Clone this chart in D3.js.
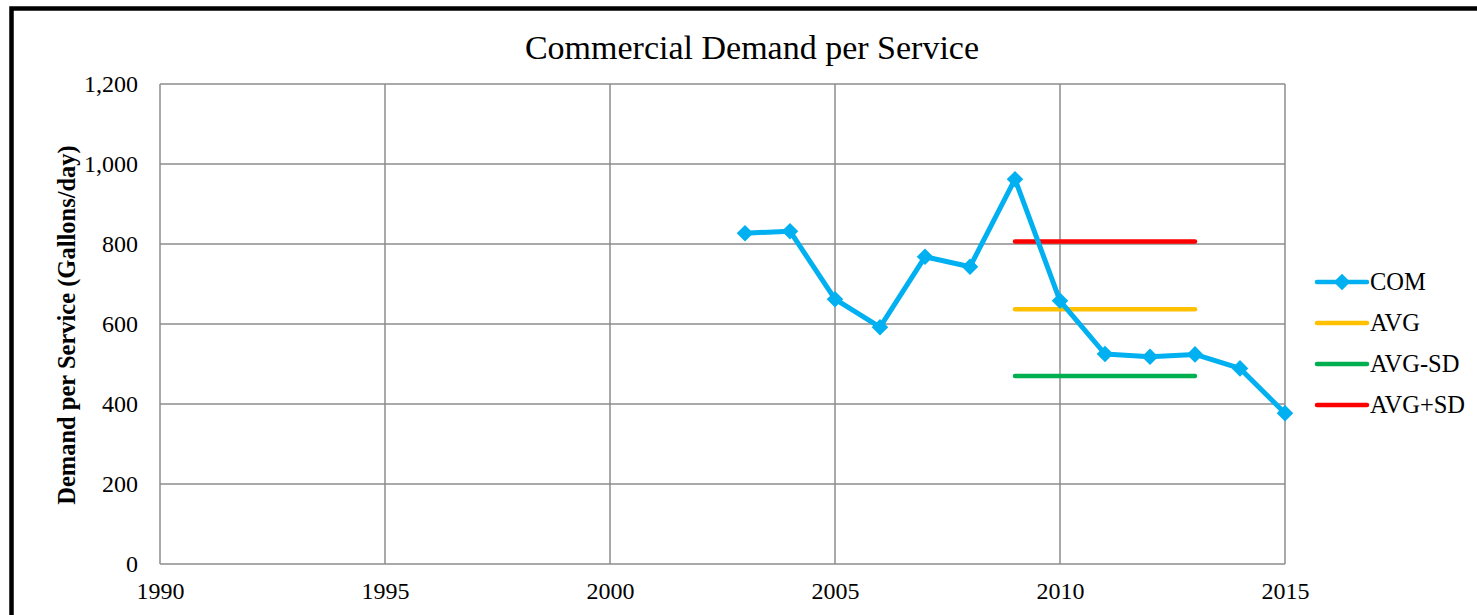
<!DOCTYPE html>
<html>
<head>
<meta charset="utf-8">
<script src="https://cdn.jsdelivr.net/npm/d3@7"></script>
<style>
  body { margin: 0; background: #fff; }
  text { font-family: "Liberation Serif", "Times New Roman", serif; }
</style>
</head>
<body>
<div id="plot"></div>
<script>
// data
var years = [2003, 2004, 2005, 2006, 2007, 2008, 2009, 2010, 2011, 2012, 2013, 2014, 2015];
var com = [827, 832, 662, 592, 768, 743, 962, 658, 525, 518, 524, 489, 377];
var statYears = [2009, 2013];
var avg = 637;
var avgMinusSd = 470;
var avgPlusSd = 806;
var xTicks = [1990, 1995, 2000, 2005, 2010, 2015];
var yTicks = [0, 200, 400, 600, 800, 1000, 1200];

var W = 1477, H = 615;
var margin = {top: 84, left: 160, right: 1477 - 1285, bottom: 615 - 564};
var width = W - margin.left - margin.right,
    height = H - margin.top - margin.bottom;

var svg = d3.select("div#plot").append("svg")
  .attr("width", W)
  .attr("height", H);

// outer frame (cut off on the right and bottom)
svg.append("rect")
  .attr("x", 11.5).attr("y", 8.5)
  .attr("width", 1600).attr("height", 800)
  .attr("fill", "none")
  .attr("stroke", "#000")
  .attr("stroke-width", 4.5);

svg.append("text")
  .attr("x", 752).attr("y", 59)
  .attr("text-anchor", "middle")
  .style("font-size", "34px")
  .text("Commercial Demand per Service");

var g = svg.append("g")
  .attr("transform", "translate(" + margin.left + "," + margin.top + ")");

var x = d3.scaleLinear().domain([1990, 2015]).range([0, width]);
var y = d3.scaleLinear().domain([0, 1200]).range([height, 0]);

// grid
g.selectAll(".hgrid").data(yTicks).enter().append("line")
  .attr("class", "hgrid")
  .attr("x1", 0).attr("x2", width)
  .attr("y1", function(d) { return y(d); })
  .attr("y2", function(d) { return y(d); })
  .attr("stroke", "#8c8c8c")
  .attr("stroke-width", 1.5);

g.selectAll(".vgrid").data(xTicks).enter().append("line")
  .attr("class", "vgrid")
  .attr("y1", 0).attr("y2", height)
  .attr("x1", function(d) { return x(d); })
  .attr("x2", function(d) { return x(d); })
  .attr("stroke", "#8c8c8c")
  .attr("stroke-width", 1.5);

// axes
var xAxis = d3.axisBottom(x).tickValues(xTicks).tickFormat(d3.format("d")).tickSize(0).tickPadding(18);
g.append("g")
  .attr("transform", "translate(0," + height + ")")
  .call(xAxis)
  .call(function(s) { s.select(".domain").remove(); })
  .selectAll("text")
    .style("font-size", "24px")
    .attr("fill", "#000")
    .style("font-family", "'Liberation Serif', serif");

var yAxis = d3.axisLeft(y).tickValues(yTicks).tickFormat(d3.format(",")).tickSize(0).tickPadding(22);
g.append("g")
  .call(yAxis)
  .call(function(s) { s.select(".domain").remove(); })
  .selectAll("text")
    .style("font-size", "24px")
    .attr("fill", "#000")
    .style("font-family", "'Liberation Serif', serif");

svg.append("text")
  .attr("transform", "translate(75,325) rotate(-90)")
  .attr("text-anchor", "middle")
  .style("font-size", "24.5px")
  .style("font-weight", "bold")
  .text("Demand per Service (Gallons/day)");

// stat lines
var stats = [
  {name: "AVG", value: avg, color: "#FFC000"},
  {name: "AVG-SD", value: avgMinusSd, color: "#00B050"},
  {name: "AVG+SD", value: avgPlusSd, color: "#FF0000"}
];

g.selectAll(".stat").data(stats).enter().append("line")
  .attr("class", "stat")
  .attr("x1", x(statYears[0])).attr("x2", x(statYears[1]))
  .attr("y1", function(d) { return y(d.value); })
  .attr("y2", function(d) { return y(d.value); })
  .attr("stroke", function(d) { return d.color; })
  .attr("stroke-width", 4.5)
  .attr("stroke-linecap", "round");

// COM line
var comData = years.map(function(yr, i) { return {year: yr, value: com[i]}; });
g.append("path")
  .datum(comData)
  .attr("fill", "none")
  .attr("stroke", "#00B0F0")
  .attr("stroke-width", 5)
  .attr("stroke-linejoin", "round")
  .attr("d", d3.line()
    .x(function(d) { return x(d.year); })
    .y(function(d) { return y(d.value); }));

var diamond = d3.symbol().type(d3.symbolDiamond2).size(175);
g.selectAll(".point").data(comData).enter().append("path")
  .attr("class", "point")
  .attr("d", diamond)
  .attr("transform", function(d) { return "translate(" + x(d.year) + "," + y(d.value) + ")"; })
  .attr("fill", "#00B0F0");

// legend: COM, AVG, AVG-SD, AVG+SD
var legend = [{name: "COM", color: "#00B0F0", marker: true}].concat(stats.map(function(s) {
  return {name: s.name, color: s.color, marker: false};
}));
var lg = svg.selectAll(".legend").data(legend).enter().append("g")
  .attr("class", "legend")
  .attr("transform", function(d, i) { return "translate(1317," + (282 + i * 41) + ")"; });

lg.append("line")
  .attr("x1", 0).attr("x2", 50)
  .attr("stroke", function(d) { return d.color; })
  .attr("stroke-width", 4.5)
  .attr("stroke-linecap", "round");

lg.filter(function(d) { return d.marker; }).append("path")
  .attr("d", diamond)
  .attr("transform", "translate(25,0)")
  .attr("fill", function(d) { return d.color; });

lg.append("text")
  .attr("x", 53).attr("y", 8)
  .style("font-size", "24.5px")
  .text(function(d) { return d.name; });
</script>
</body>
</html>
